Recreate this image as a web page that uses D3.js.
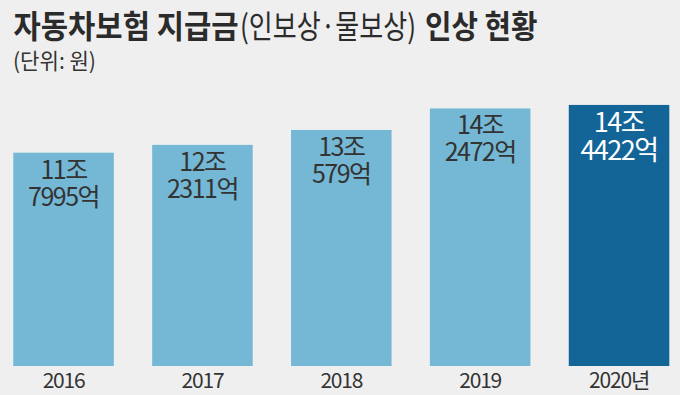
<!DOCTYPE html>
<html><head><meta charset="utf-8">
<script src="https://cdn.jsdelivr.net/npm/d3@7"></script>
<style>
html,body{margin:0;padding:0;background:#efefef;}
svg{display:block;font-family:"Noto Sans CJK KR","Noto Sans",sans-serif;}
</style></head>
<body>
<script>
const years = ["2016","2017","2018","2019","2020년"];
const values = [117995,122311,130579,142472,144422]; // 억원
const labelTop = ["11조","12조","13조","14조","14조"];
const labelBottom = ["7995억","2311억","579억","2472억","4422억"];
const highlight = [false,false,false,false,true];
const titleParts = ["자동차보험 지급금","(인보상·물보상)","인상 현황"];
const subtitle = "(단위: 원)";

const W=680,H=395;
const svg=d3.select("body").append("svg").attr("width",W).attr("height",H);
svg.append("rect").attr("width",W).attr("height",H).attr("fill","#efefef");

// title, in three pieces
const tSpec=[{x:13.5,len:225,w:700},{x:240,len:176,w:400},{x:425,len:112.5,w:700}];
titleParts.forEach((s,i)=>{
  svg.append("text").attr("x",tSpec[i].x).attr("y",37.5).attr("fill","#2b2b2b")
    .attr("font-size",32).attr("font-weight",tSpec[i].w)
    .attr("textLength",tSpec[i].len).attr("lengthAdjust","spacingAndGlyphs").text(s);
});

svg.append("text").attr("x",13).attr("y",69).attr("fill","#333")
  .attr("font-size",22).attr("textLength",83).attr("lengthAdjust","spacingAndGlyphs")
  .text(subtitle);

const x=d3.scaleBand().domain(years).range([13.3,669.3]).paddingInner(0.276).paddingOuter(0);
const y=d3.scaleLinear().domain([0,202464]).range([366,0]);

const g=svg.append("g");
g.selectAll("rect.bar").data(years).join("rect").attr("class","bar")
  .attr("x",d=>x(d)).attr("width",x.bandwidth())
  .attr("y",(d,i)=>y(values[i])).attr("height",(d,i)=>y(0)-y(values[i]))
  .attr("fill",(d,i)=>highlight[i]?"#136597":"#74b8d5");

years.forEach((d,i)=>{
  const cx=x(d)+x.bandwidth()/2, top=y(values[i]);
  const hl=highlight[i];
  const fs=hl?27:25, lh=hl?28:27, off=hl?27.5:26;
  const col=hl?"#ffffff":"#333333";
  const tx=g.append("text").attr("text-anchor","middle").attr("fill",col)
    .attr("font-size",fs).attr("letter-spacing",-1.5);
  tx.append("tspan").attr("x",cx).attr("y",top+off).text(labelTop[i]);
  tx.append("tspan").attr("x",cx).attr("y",top+off+lh).text(labelBottom[i]);
});

const ax=d3.axisBottom(x).tickSize(0).tickPadding(0);
const axg=svg.append("g").attr("transform","translate(0,366)").call(ax);
axg.select(".domain").remove();
axg.selectAll("text").attr("font-size",21).attr("fill","#333").attr("letter-spacing",-1.2)
  .attr("font-family","'Noto Sans CJK KR','Noto Sans',sans-serif")
  .attr("dy",null).attr("y",22);
</script>
</body></html>
